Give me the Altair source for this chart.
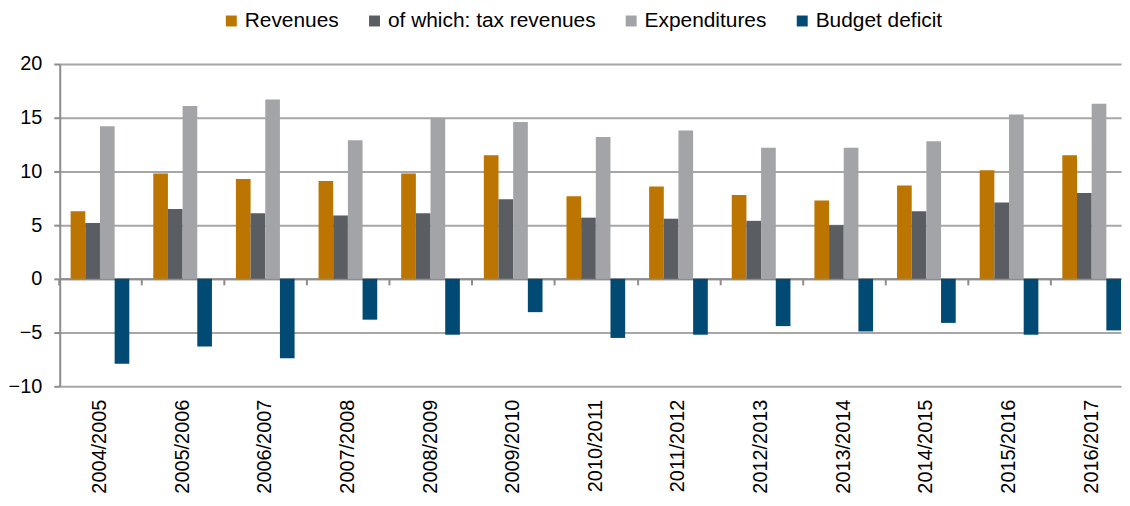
import altair as alt
import pandas as pd

years = ["2004/2005", "2005/2006", "2006/2007", "2007/2008", "2008/2009",
         "2009/2010", "2010/2011", "2011/2012", "2012/2013", "2013/2014",
         "2014/2015", "2015/2016", "2016/2017"]
series = ["Revenues", "of which: tax revenues", "Expenditures", "Budget deficit"]
colors = ["#BC7500", "#5A5D62", "#A3A4A8", "#004A73"]

revenues = [6.3, 9.8, 9.3, 9.1, 9.8, 11.5, 7.7, 8.6, 7.8, 7.3, 8.7, 10.1, 11.5]
tax_revenues = [5.2, 6.5, 6.1, 5.9, 6.1, 7.4, 5.7, 5.6, 5.4, 5.0, 6.3, 7.1, 8.0]
expenditures = [14.2, 16.1, 16.7, 12.9, 15.0, 14.6, 13.2, 13.8, 12.2, 12.2, 12.8, 15.3, 16.3]
budget_deficit = [-7.9, -6.3, -7.4, -3.8, -5.2, -3.1, -5.5, -5.2, -4.4, -4.9, -4.1, -5.2, -4.8]

rows = []
for i, yr in enumerate(years):
    for s, vals in zip(series, [revenues, tax_revenues, expenditures, budget_deficit]):
        rows.append({"year": yr, "series": s, "value": vals[i]})
df = pd.DataFrame(rows)

FONT = "Liberation Sans"
GRID = "#A6A6A6"
AXC = "#8C8C8C"


def xscale():
    return alt.Scale(paddingInner=0.29, paddingOuter=0.066, align=1)


def yscale():
    return alt.Scale(domain=[-10, 20], nice=False)


bars = alt.Chart(df).mark_bar().encode(
    x=alt.X("year:N", sort=years, scale=xscale(), title=None,
            axis=alt.Axis(orient="bottom", labelAngle=270, labelFontSize=20,
                          labelPadding=13, ticks=False, tickSize=0, domain=False,
                          grid=False, labelFont=FONT, labelColor="#000000")),
    xOffset=alt.XOffset("series:N", sort=series,
                        scale=alt.Scale(paddingInner=0, paddingOuter=0)),
    y=alt.Y("value:Q", scale=yscale(), title=None,
            axis=alt.Axis(orient="left", values=[-10, -5, 0, 5, 10, 15, 20],
                          grid=True, gridColor=GRID, gridWidth=2,
                          domainColor=AXC, domainWidth=2, tickColor=AXC,
                          tickWidth=2, tickSize=6, labelPadding=12,
                          labelFontSize=20, labelFont=FONT,
                          labelColor="#000000")),
    color=alt.Color("series:N", sort=series,
                    scale=alt.Scale(domain=series, range=colors),
                    legend=alt.Legend(title=None, orient="none", legendX=162,
                                      legendY=-54, direction="horizontal",
                                      columns=4, columnPadding=25,
                                      symbolType="square", symbolSize=121,
                                      symbolStrokeWidth=0, labelFontSize=21,
                                      labelFont=FONT, labelLimit=400,
                                      labelOffset=3, padding=0,
                                      labelColor="#000000")),
)

zero_axis = alt.Chart(df).mark_point(opacity=0).encode(
    x=alt.X("year:N", sort=years, scale=xscale(), title=None,
            axis=alt.Axis(orient="bottom", offset=-108, labels=False, ticks=True,
                          bandPosition=0, tickExtra=False, tickOffset=-12,
                          tickSize=6, tickColor=AXC, tickWidth=2, domain=True,
                          domainColor=AXC, domainWidth=2, grid=False)),
    y=alt.Y("value:Q", scale=yscale(), axis=None),
)

chart = alt.layer(bars, zero_axis).resolve_axis(
    x="independent", y="independent"
).properties(
    width=1067, height=324,
    padding={"left": 0, "top": 1, "right": 0, "bottom": 0},
).configure_view(stroke=None)

chart.save("out.html", embed_options={"renderer": "svg", "actions": False})
